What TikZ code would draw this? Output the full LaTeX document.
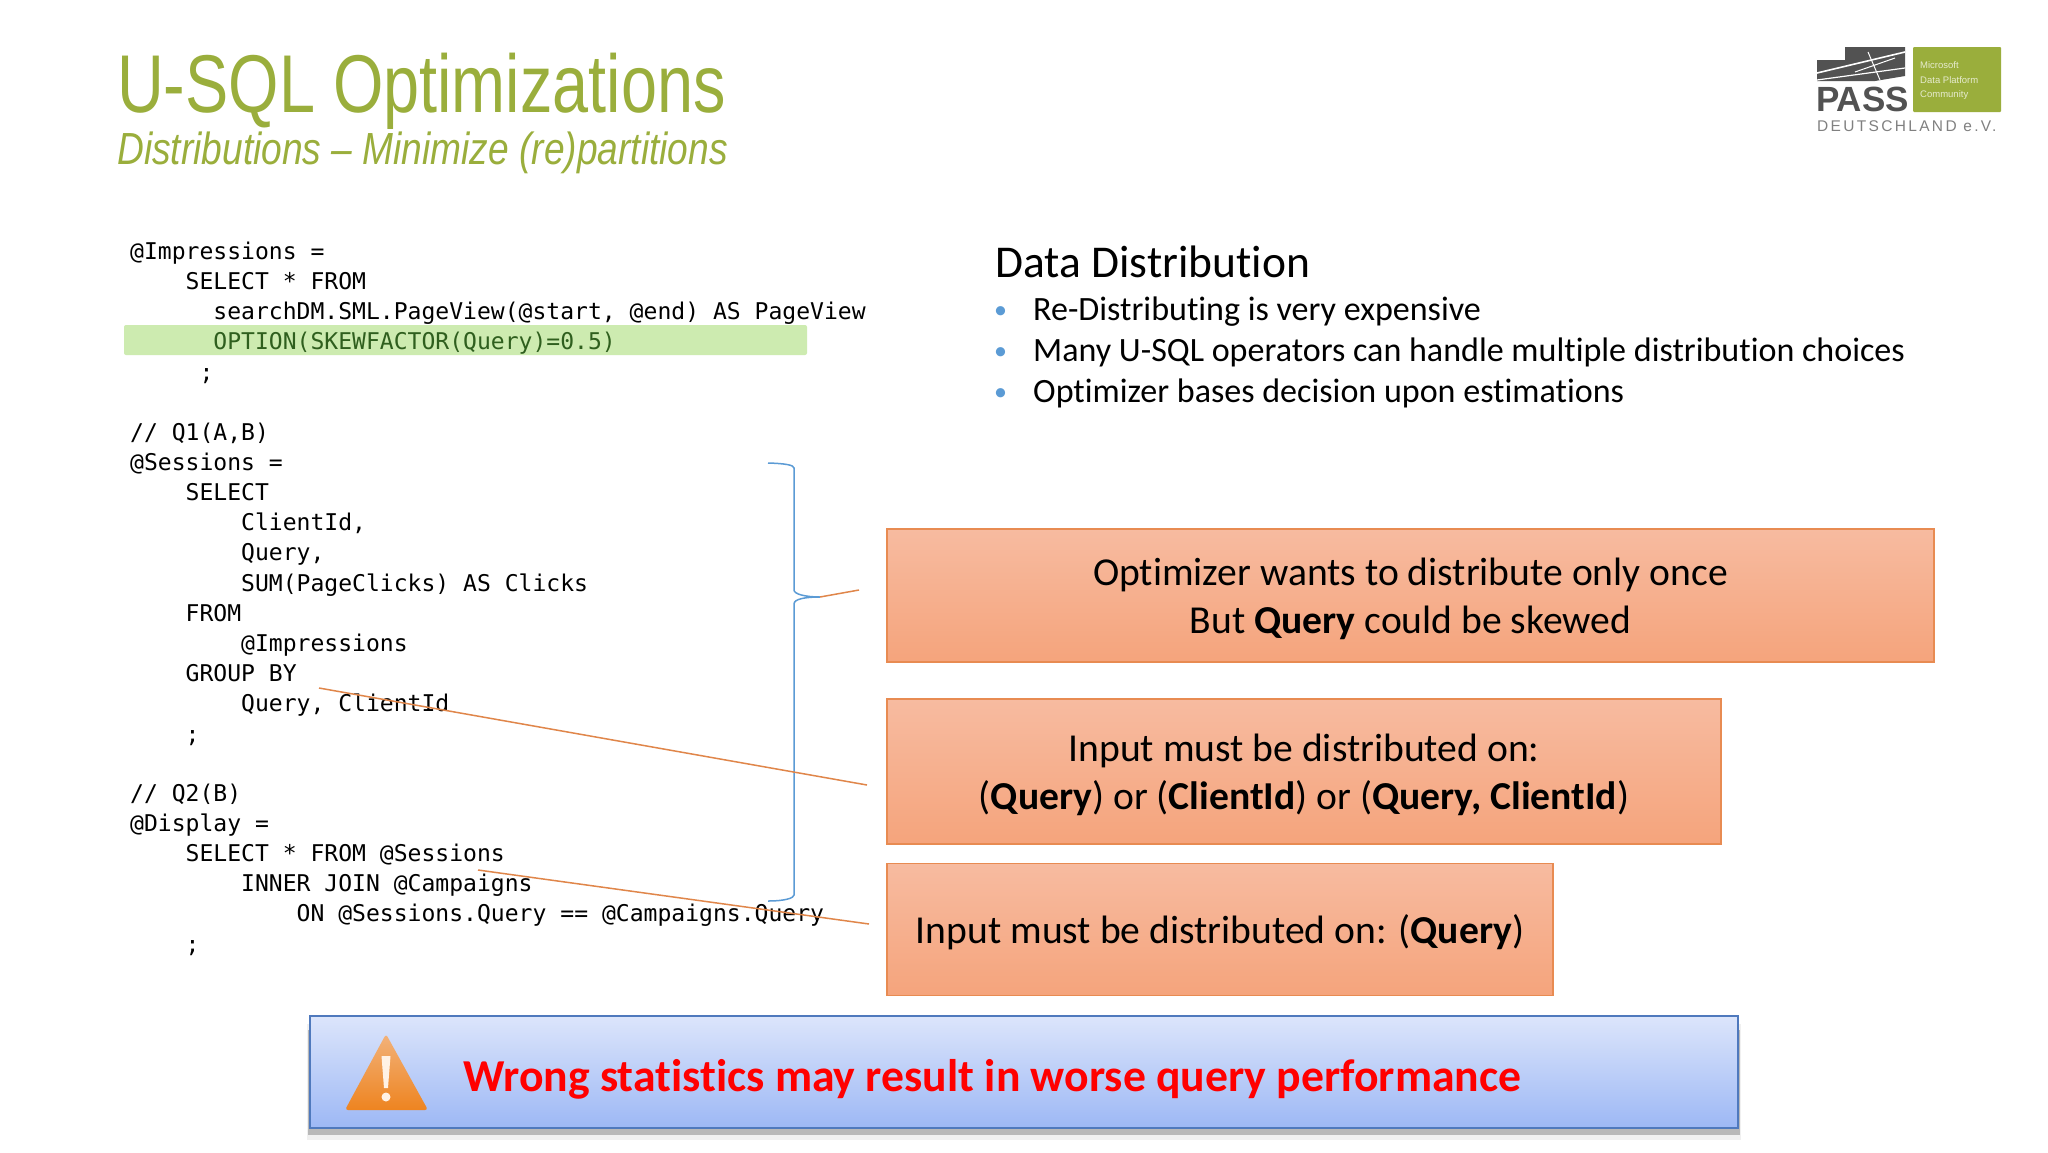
\documentclass[tikz,border=0pt]{standalone}
\usepackage{fontspec}
\setmainfont[Ligatures=NoCommon]{Carlito}
\setmonofont{DejaVu Sans Mono}
\newfontfamily\titlefont[FakeStretch=0.79]{Liberation Sans}
\newfontfamily\subfont[FakeStretch=0.825]{Liberation Sans}
\newfontfamily\logofont{Liberation Sans}
\newfontfamily\logospaced[LetterSpace=15]{Liberation Sans}
\usetikzlibrary{calc}
\definecolor{olivet}{HTML}{9AAE3C}
\definecolor{orangeedge}{HTML}{E88B52}
\definecolor{braceblue}{HTML}{5B9BD5}
\definecolor{orangeline}{HTML}{E0864A}
\definecolor{boxtop}{HTML}{F7BBA0}
\definecolor{boxbot}{HTML}{F5A47C}
\definecolor{hilite}{HTML}{CDEBB0}
\definecolor{optgreen}{HTML}{2F5F1E}
\definecolor{banneredge}{HTML}{4F79BD}
\definecolor{bantop}{HTML}{DCE5FB}
\definecolor{banbot}{HTML}{9DB8F5}
\definecolor{warntop}{HTML}{F2B27A}
\definecolor{warnbot}{HTML}{EE8420}
\newcommand{\fs}[1]{\fontsize{#1}{#1}\selectfont}
\tikzset{
  code/.style={anchor=base west,inner sep=0pt,font=\ttfamily\fs{23.05}},
  callout/.style={draw=orangeedge,line width=1.5pt,top color=boxtop,bottom color=boxbot,inner sep=0pt},
  callouttext/.style={align=center,font=\fs{39.6},text=black,inner sep=0pt},
  bullettext/.style={anchor=base west,inner sep=0pt,font=\fs{34.05}},
  bulletdot/.style={anchor=base west,inner sep=0pt,font=\fs{26},text=braceblue},
  bracepath/.style={draw=braceblue,line width=1.5pt},
  leader/.style={draw=orangeline,line width=1.5pt},
  logotext/.style={anchor=base west,inner sep=0pt,text=white!75!olivet,font=\logofont\fs{9.5}}
}
\begin{document}
\begin{tikzpicture}[x=1pt,y=-1pt]
\useasboundingbox (0,0) rectangle (2048,1152);
\fill[white] (0,0) rectangle (2048,1152);
% title
\node[anchor=base west,inner sep=0pt,text=olivet,font=\titlefont\fs{82}] (title) at (117,112) {U-SQL Optimizations};
\node[anchor=base west,inner sep=0pt,text=olivet,font=\subfont\itshape\fs{45}] (subtitle) at (117,164) {Distributions – Minimize (re)partitions};
% logo
\fill[rounded corners=1pt,fill=olivet] (1913,47) rectangle (2001,112);
\fill[black!68] (1817,60) -- (1845,60) -- (1845,47) -- (1905,47) -- (1905,76) -- (1875,81) -- (1817,81) -- cycle;
\draw[white,line width=1.6pt] (1817,73) -- (1905,52);
\draw[white,line width=1.2pt] (1817,80) -- (1905,68);
\draw[white,line width=1pt] (1868,52) -- (1880,80) (1855,72) -- (1895,58);
\node[anchor=base west,inner sep=0pt,text=black!68,font=\logofont\bfseries\fs{35}] (pass) at (1816,111) {PASS};
\node[anchor=base west,inner sep=0pt,text=black!50,font=\logospaced\fs{15.5}] (de) at (1817,131) {DEUTSCHLAND e.V.};
\node[logotext] (m1) at (1920,68) {Microsoft};
\node[logotext] (m2) at (1920,83) {Data Platform};
\node[logotext] (m3) at (1920,97) {Community};
% highlight
\fill[rounded corners=2pt,fill=hilite] (124,325) rectangle (807,355);
% code
\node[code] (c1) at (130,259) {@Impressions =};
\node[code] (c2) at (130,289) {\ \ \ \ SELECT * FROM};
\node[code] (c3) at (130,319) {\ \ \ \ \ \ searchDM.SML.PageView(@start, @end) AS PageView};
\node[code,text=optgreen] (c4) at (130,349) {\ \ \ \ \ \ OPTION(SKEWFACTOR(Query)=0.5)};
\node[code] (c5) at (130,380) {\ \ \ \ \ ;};
\node[code] (c6) at (130,440) {// Q1(A,B)};
\node[code] (c7) at (130,470) {@Sessions =};
\node[code] (c8) at (130,500) {\ \ \ \ SELECT};
\node[code] (c9) at (130,530) {\ \ \ \ \ \ \ \ ClientId,};
\node[code] (c10) at (130,560) {\ \ \ \ \ \ \ \ Query,};
\node[code] (c11) at (130,591) {\ \ \ \ \ \ \ \ SUM(PageClicks) AS Clicks};
\node[code] (c12) at (130,621) {\ \ \ \ FROM};
\node[code] (c13) at (130,651) {\ \ \ \ \ \ \ \ @Impressions};
\node[code] (c14) at (130,681) {\ \ \ \ GROUP BY};
\node[code] (c15) at (130,711) {\ \ \ \ \ \ \ \ Query, ClientId};
\node[code] (c16) at (130,742) {\ \ \ \ ;};
\node[code] (c17) at (130,801) {// Q2(B)};
\node[code] (c18) at (130,831) {@Display =};
\node[code] (c19) at (130,861) {\ \ \ \ SELECT * FROM @Sessions};
\node[code] (c20) at (130,891) {\ \ \ \ \ \ \ \ INNER JOIN @Campaigns};
\node[code] (c21) at (130,921) {\ \ \ \ \ \ \ \ \ \ \ \ ON @Sessions.Query == @Campaigns.Query};
\node[code] (c22) at (130,952) {\ \ \ \ ;};
% data distribution
\node[anchor=base west,inner sep=0pt,font=\fs{45.5}] (dd) at (995,277) {Data Distribution};
\node[bulletdot] (b1) at (994,318) {•};
\node[bulletdot] (b2) at (994,359) {•};
\node[bulletdot] (b3) at (994,400) {•};
\node[bullettext] (t1) at (1033,320) {Re-Distributing is very expensive};
\node[bullettext] (t2) at (1033,361) {Many U-SQL operators can handle multiple distribution choices};
\node[bullettext] (t3) at (1033,402) {Optimizer bases decision upon estimations};
% callouts
\node[callout,minimum width=1047pt,minimum height=133pt] (box1) at (1410.5,595.5) {};
\node[callout,minimum width=834pt,minimum height=145pt] (box2) at (1304,771.5) {};
\node[callout,minimum width=666pt,minimum height=132pt] (box3) at (1220,929.5) {};
\node[callouttext] (box1text) at ([yshift=-3pt]box1.center) {Optimizer wants to distribute only once\\[8.5pt]But \textbf{Query} could be skewed};
\node[callouttext] (box2text) at ([yshift=-3pt]box2.center) {Input must be distributed on:\\[8.5pt](\textbf{Query}) or (\textbf{ClientId}) or (\textbf{Query, ClientId})};
\node[callouttext] (box3text) at ([yshift=-3pt]box3.center) {Input must be distributed on: (\textbf{Query})};
% brace
\coordinate (bt) at (768,463);
\coordinate (btip) at (820,597);
\coordinate (bb) at (768,901);
\draw[bracepath] (bt) .. controls (785,463.5) and (794,465) .. (794,468) -- (794,590) .. controls (794,594) and (805,597) .. (btip) .. controls (805,597) and (794,599) .. (794,604) -- (794,895) .. controls (794,898) and (785,901) .. (bb);
% leaders
\coordinate (l1) at (859,590);
\coordinate (l2a) at (319,688);
\coordinate (l2b) at (867,785);
\coordinate (l3a) at (478,870);
\coordinate (l3b) at (869,924);
\draw[leader] (btip) -- (l1);
\draw[leader] (l2a) -- (l2b);
\draw[leader] (l3a) -- (l3b);
% banner
\fill[black!6] (307,1024) rectangle (1741,1140);
\fill[black!28] (308,1030) rectangle (1740,1135);
\node[draw=banneredge,line width=2pt,top color=bantop,bottom color=banbot,minimum width=1428pt,minimum height=112pt,inner sep=0pt] (banner) at (1024,1072) {};
\node[anchor=base west,inner sep=0pt,font=\bfseries\fs{45.7},text=red] (warn) at (463,1091) {Wrong statistics may result in worse query performance};
% warning icon
\shade[rounded corners=3pt,top color=warntop,bottom color=warnbot] (386,1034) -- (428,1110) -- (345,1110) -- cycle;
\fill[white!90!orange] (381.5,1056) -- (390.5,1056) -- (388,1088) -- (384,1088) -- cycle;
\fill[white!90!orange] (386,1097) circle (4.5pt);
\end{tikzpicture}
\end{document}
